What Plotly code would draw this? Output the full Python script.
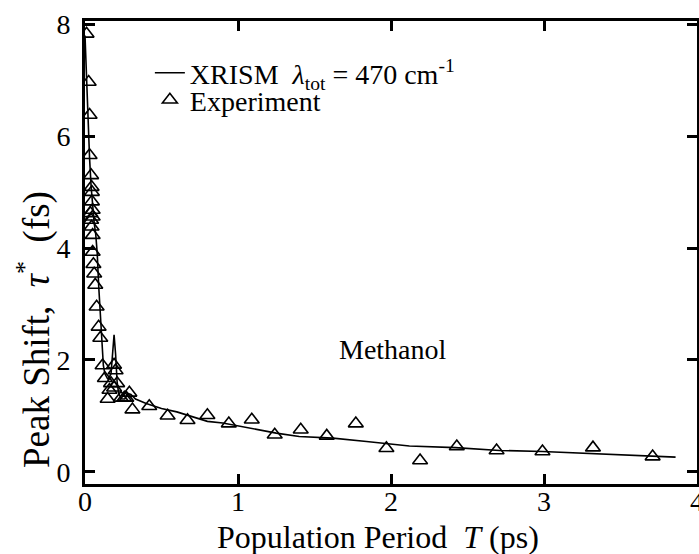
import plotly.graph_objects as go

# XRISM theory curve (ps, fs)
theory_T = [0.0, 0.01, 0.02, 0.03, 0.04, 0.05, 0.06, 0.07, 0.08, 0.09, 0.10, 0.11,
            0.12, 0.13, 0.15, 0.17, 0.18, 0.19, 0.20, 0.21, 0.22, 0.24, 0.26, 0.28,
            0.30, 0.33, 0.40, 0.50, 0.60, 0.70, 0.80, 0.90, 1.00, 1.10, 1.25, 1.40,
            1.62, 1.84, 2.12, 2.42, 2.71, 2.99, 3.31, 3.58, 3.86]
theory_tau = [7.8, 7.0, 6.2, 5.6, 5.1, 4.7, 4.45, 4.25, 3.9, 3.3, 2.75, 2.2,
              1.9, 1.75, 1.65, 1.75, 2.2, 2.45, 2.1, 1.6, 1.4, 1.3, 1.3, 1.4,
              1.38, 1.3, 1.22, 1.13, 1.07, 0.98, 0.9, 0.87, 0.82, 0.76, 0.69, 0.63,
              0.60, 0.54, 0.46, 0.43, 0.38, 0.36, 0.32, 0.29, 0.26]

# Experimental peak shift
exp_T = [0.01, 0.024, 0.03, 0.03, 0.04, 0.043, 0.045, 0.045, 0.05, 0.05,
         0.035, 0.04, 0.043, 0.05, 0.05, 0.055, 0.06, 0.067, 0.076, 0.089,
         0.10, 0.115, 0.13, 0.148, 0.16, 0.17, 0.19, 0.20, 0.21, 0.19,
         0.235, 0.257, 0.29, 0.27,
         0.31, 0.42, 0.54, 0.67, 0.80, 0.94, 1.09, 1.24, 1.41, 1.58, 1.77,
         1.97, 2.19, 2.43, 2.69, 2.99, 3.32, 3.71]
exp_tau = [7.83, 6.97, 6.38, 5.66, 5.30, 5.09, 5.0, 4.83, 4.68, 4.56,
           4.62, 4.5, 4.38, 4.23, 3.93, 3.71, 3.54, 3.34, 2.95, 2.59,
           2.39, 1.90, 1.67, 1.30, 1.46, 1.58, 1.91, 1.81, 1.58, 1.5,
           1.32, 1.32, 1.41, 1.32,
           1.11, 1.17, 1.0, 0.92, 1.01, 0.86, 0.93, 0.66, 0.75, 0.64, 0.86,
           0.42, 0.2, 0.45, 0.38, 0.36, 0.43, 0.27]

x_ticks = [0, 1, 2, 3, 4]
y_ticks = [0, 2, 4, 6, 8]

FONT = "Liberation Serif"

fig = go.Figure()
fig.add_trace(go.Scatter(
    x=theory_T, y=theory_tau, mode="lines",
    line=dict(color="black", width=1.6),
    name="XRISM  <i>λ</i><sub>tot</sub> = 470 cm<sup>-1</sup>",
    legend="legend",
))
fig.add_trace(go.Scatter(
    x=exp_T, y=exp_tau, mode="markers",
    marker=dict(symbol="triangle-up-open", size=13, color="black",
                line=dict(width=1.6, color="black")),
    name="Experiment",
    legend="legend2",
))

fig.add_annotation(x=2.01, y=2.18, text="Methanol", showarrow=False,
                   font=dict(family=FONT, size=28, color="black"))

# axis titles placed as in the reference
fig.add_annotation(xref="paper", yref="paper", x=-0.083, y=0.333,
                   text="Peak Shift,  <i>τ</i><sup>*</sup>  (fs)",
                   textangle=-90, showarrow=False,
                   xanchor="center", yanchor="middle",
                   font=dict(family=FONT, size=37, color="black"))
fig.add_annotation(xref="paper", yref="paper", x=0.479, y=(484 - 537) / 463,
                   text="Population Period  <i>T</i> (ps)",
                   showarrow=False, xanchor="center", yanchor="middle",
                   font=dict(family=FONT, size=32, color="black"))

axis_common = dict(
    showline=True, linecolor="black", linewidth=3, mirror="ticks",
    ticks="inside", ticklen=10, tickwidth=3, tickcolor="black",
    showgrid=False, zeroline=False, automargin=False,
    ticklabeloverflow="allow",
    tickfont=dict(family=FONT, size=28, color="black"),
)

fig.update_xaxes(range=[0, 4], tickvals=x_ticks, ticklabelstandoff=-10,
                 **axis_common)
fig.update_yaxes(range=[-0.22, 8.06], tickvals=y_ticks, ticklabelstandoff=6,
                 **axis_common)

leg_common = dict(xanchor="left", yanchor="middle",
                  bgcolor="rgba(0,0,0,0)", borderwidth=0,
                  font=dict(family=FONT, size=28, color="black"))

fig.update_layout(
    width=699, height=554,
    margin=dict(l=85, r=2, t=21, b=70),
    plot_bgcolor="white", paper_bgcolor="white",
    showlegend=True,
    legend=dict(x=0.106, y=(484 - 73) / 463, **leg_common),
    legend2=dict(x=0.106, y=(484 - 100) / 463, **leg_common),
    font=dict(family=FONT, color="black"),
)

fig.write_html("out.html")
